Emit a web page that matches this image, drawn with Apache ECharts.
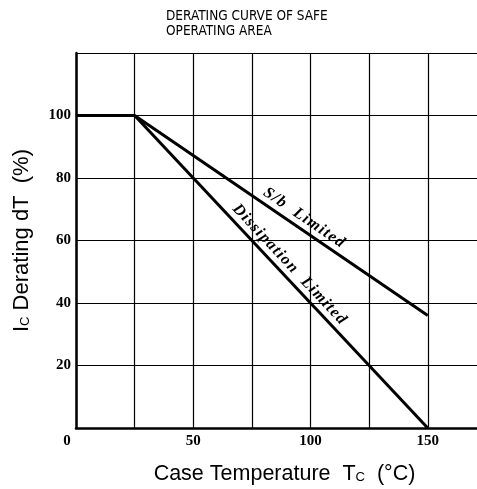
<!DOCTYPE html>
<html>
<head>
<meta charset="utf-8">
<script src="https://cdn.jsdelivr.net/npm/echarts@6/dist/echarts.min.js"></script>
<style>
  html, body { margin: 0; padding: 0; background: #fff; }
  #main { width: 477px; height: 489px; }
</style>
</head>
<body>
<div id="main"></div>
<script>
// data
var sbTemp = [0, 25, 150];
var sbValue = [100, 100, 36];
var dissTemp = [25, 150];
var dissValue = [100, 0];
var xLabels = [0, 50, 100, 150];
var yLabels = [20, 40, 60, 80, 100];

function pairs(xs, ys) {
    var out = [];
    for (var i = 0; i < xs.length; i++) out.push([xs[i], ys[i]]);
    return out;
}

// the scan's curve labels are slightly letter-spaced, use hair spaces
function spaced(s) {
    return s.split('').join('\u200A');
}

var sbData = pairs(sbTemp, sbValue);
var dissData = pairs(dissTemp, dissValue);

var labelFont = {
    fontFamily: 'Liberation Serif',
    fontWeight: 'bold',
    fontStyle: 'italic',
    fontSize: 16,
    color: '#000'
};

var myChart = echarts.init(document.getElementById('main'));

var option = {
    animation: false,
    title: {
        text: 'DERATING CURVE OF SAFE\nOPERATING AREA',
        left: 161,
        top: 4,
        textStyle: {
            fontFamily: 'DejaVu Sans Condensed, DejaVu Sans, sans-serif',
            fontWeight: 'normal',
            fontSize: 13.5,
            lineHeight: 15,
            color: '#000'
        }
    },
    grid: {
        left: 76,
        top: 53,
        right: 0,
        bottom: 61,
        outerBoundsMode: 'none'
    },
    xAxis: {
        type: 'value',
        min: 0,
        max: 171,
        interval: 25,
        name: 'Case Temperature  T{s|C}  (°C)',
        nameLocation: 'middle',
        nameGap: 35,
        nameTextStyle: {
            fontFamily: 'Liberation Sans',
            fontSize: 21.5,
            color: '#000',
            padding: [0, 0, 0, 16],
            rich: { s: { fontFamily: 'Liberation Sans', fontSize: 13, padding: [6, 0, 0, 0], color: '#000' } }
        },
        axisLine: { lineStyle: { color: '#000', width: 2.5 } },
        axisTick: { show: false },
        axisLabel: {
            margin: 6,
            fontFamily: 'Liberation Serif',
            fontWeight: 'bold',
            fontSize: 15,
            color: '#000',
            formatter: function (v) {
                if (xLabels.indexOf(v) < 0) return '';
                return v === 0 ? '{z|0}' : String(v);
            },
            rich: { z: { fontFamily: 'Liberation Serif', fontWeight: 'bold', fontSize: 15, padding: [0, 18, 0, 0], color: '#000' } }
        },
        splitLine: { show: true, showMaxLine: false, lineStyle: { color: '#000', width: 1.2 } }
    },
    yAxis: {
        type: 'value',
        min: 0,
        max: 120,
        interval: 20,
        name: 'I{s|C} Derating dT  (%)',
        nameLocation: 'middle',
        nameGap: 43,
        nameTextStyle: {
            fontFamily: 'Liberation Sans',
            fontSize: 22,
            color: '#000',
            rich: { s: { fontFamily: 'Liberation Sans', fontSize: 13, padding: [6, 0, 0, 0], color: '#000' } }
        },
        axisLine: { lineStyle: { color: '#000', width: 2.5 } },
        axisTick: { show: false },
        axisLabel: {
            margin: 5,
            fontFamily: 'Liberation Serif',
            fontWeight: 'bold',
            fontSize: 15,
            color: '#000',
            formatter: function (v) {
                return yLabels.indexOf(v) < 0 ? '' : String(v);
            }
        },
        splitLine: { show: true, lineStyle: { color: '#000', width: 1.2 } }
    },
    series: [
        {
            name: 'S/b Limited',
            type: 'line',
            data: sbData,
            symbol: 'none',
            lineStyle: { color: '#000', width: 3 },
            markLine: {
                silent: true,
                symbol: 'none',
                lineStyle: { color: 'rgba(0,0,0,0)', width: 1 },
                label: Object.assign({
                    show: true,
                    position: 'insideMiddleTop',
                    formatter: spaced('S/b') + '   ' + spaced('Limited'),
                    distance: 3,
                    padding: [0, 0, 0, 40]
                }, labelFont),
                data: [[{ coord: sbData[1] }, { coord: sbData[2] }]]
            }
        },
        {
            name: 'Dissipation Limited',
            type: 'line',
            data: dissData,
            symbol: 'none',
            lineStyle: { color: '#000', width: 3 },
            markLine: {
                silent: true,
                symbol: 'none',
                lineStyle: { color: 'rgba(0,0,0,0)', width: 1 },
                label: Object.assign({
                    show: true,
                    position: 'insideMiddleTop',
                    formatter: spaced('Dissipation') + '   ' + spaced('Limited'),
                    distance: 3
                }, labelFont),
                data: [[{ coord: dissData[0] }, { coord: dissData[1] }]]
            }
        }
    ]
};

myChart.setOption(option);
</script>
</body>
</html>
